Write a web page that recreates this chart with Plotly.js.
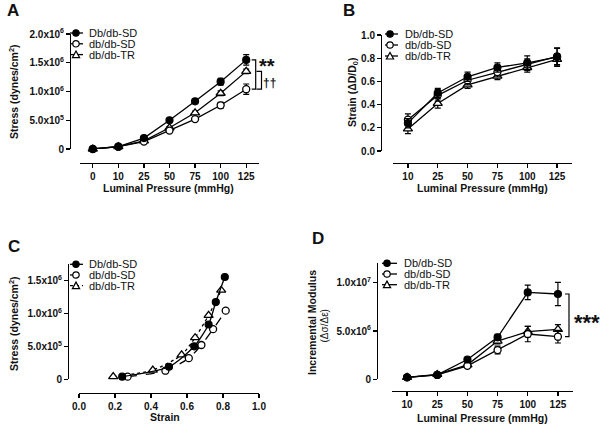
<!DOCTYPE html>
<html>
<head>
<meta charset="utf-8">
<script src="https://cdn.plot.ly/plotly-3.0.1.min.js"></script>
<style>html,body{margin:0;padding:0;background:#fff;}#chart{width:602px;height:432px;}</style>
</head>
<body>
<div id="chart"></div>
<script>
// ---------- data ----------
const pressureA = ['0','10','25','50','75','100','125'];
const pressureB = ['10','25','50','75','100','125'];
const seriesNames = ['Db/db-SD','db/db-SD','db/db-TR'];

// Panel A: stress (dynes/cm^2)
const stressDb = [0, 0.04e6, 0.19e6, 0.50e6, 0.83e6, 1.17e6, 1.55e6];
const stressDbErr = [0, 0.01e6, 0.02e6, 0.03e6, 0.03e6, 0.06e6, 0.09e6];
const stressSD = [0, 0.04e6, 0.13e6, 0.32e6, 0.52e6, 0.76e6, 1.04e6];
const stressSDErr = [0, 0.01e6, 0.02e6, 0.03e6, 0.04e6, 0.05e6, 0.09e6];
const stressTR = [0, 0.04e6, 0.14e6, 0.37e6, 0.63e6, 0.97e6, 1.35e6];
const stressTRErr = [0, 0.01e6, 0.01e6, 0.02e6, 0.03e6, 0.04e6, 0.04e6];

// Panel B: strain
const strainDb = [0.24, 0.50, 0.64, 0.72, 0.76, 0.81];
const strainDbErr = [0.04, 0.04, 0.04, 0.04, 0.06, 0.08];
const strainSD = [0.27, 0.48, 0.61, 0.68, 0.745, 0.815];
const strainSDErr = [0.05, 0.05, 0.04, 0.04, 0.05, 0.07];
const strainTR = [0.19, 0.41, 0.57, 0.645, 0.72, 0.79];
const strainTRErr = [0.04, 0.04, 0.03, 0.03, 0.04, 0.05];

// Panel D: incremental modulus
const modDb = [0.2e6, 0.45e6, 2.05e6, 4.35e6, 9.0e6, 8.83e6];
const modDbErr = [0.1e6, 0.1e6, 0.2e6, 0.3e6, 0.75e6, 1.2e6];
const modSD = [0.2e6, 0.45e6, 1.4e6, 3.03e6, 4.69e6, 4.41e6];
const modSDErr = [0.1e6, 0.1e6, 0.2e6, 0.4e6, 0.8e6, 0.65e6];
const modTR = [0.2e6, 0.5e6, 1.5e6, 3.96e6, 4.93e6, 5.17e6];
const modTRErr = [0.1e6, 0.1e6, 0.2e6, 0.3e6, 0.55e6, 0.5e6];

// ---------- helpers ----------
const W = 602, H = 432;
const FONT = 'Liberation Sans, Arial, sans-serif';
const px = v => v / W;
const py = v => 1 - v / H;

const symDb = {symbol:'circle', color:'#000', line:{color:'#000', width:1.2}, size:7};
const symSD = {symbol:'circle', color:'#fff', line:{color:'#000', width:1.3}, size:7};
const symTR = {symbol:'triangle-up', color:'#fff', line:{color:'#000', width:1.3}, size:8};

function tr(x, y, err, marker, xa, ya, name, dash, shape) {
  const t = {
    type:'scatter', mode:'lines+markers', x:x, y:y, name:name,
    xaxis:xa, yaxis:ya, marker:marker, cliponaxis:false, showlegend:false,
    line:{color:'#000', width:1.3, dash:dash || 'solid', shape:shape || 'linear', smoothing:0.7}
  };
  if (err) t.error_y = {type:'data', array:err, visible:true, color:'#000', thickness:1.2, width:3};
  return t;
}

const data = [
  // A
  tr(pressureA, stressTR, stressTRErr, symTR, 'x', 'y', seriesNames[2]),
  tr(pressureA, stressSD, stressSDErr, symSD, 'x', 'y', seriesNames[1]),
  tr(pressureA, stressDb, stressDbErr, symDb, 'x', 'y', seriesNames[0]),
  // B
  tr(pressureB, strainTR, strainTRErr, symTR, 'x2', 'y2', seriesNames[2]),
  tr(pressureB, strainSD, strainSDErr, symSD, 'x2', 'y2', seriesNames[1]),
  tr(pressureB, strainDb, strainDbErr, symDb, 'x2', 'y2', seriesNames[0]),
  // C (stress vs strain, smooth curves)
  tr(strainTR, stressTR.slice(1), null, symTR, 'x3', 'y3', seriesNames[2], 'dot', 'spline'),
  tr(strainSD, stressSD.slice(1), null, symSD, 'x3', 'y3', seriesNames[1], 'dash', 'spline'),
  tr(strainDb, stressDb.slice(1), null, symDb, 'x3', 'y3', seriesNames[0], 'solid', 'spline'),
  // D
  tr(pressureB, modTR, modTRErr, symTR, 'x4', 'y4', seriesNames[2]),
  tr(pressureB, modSD, modSDErr, symSD, 'x4', 'y4', seriesNames[1]),
  tr(pressureB, modDb, modDbErr, symDb, 'x4', 'y4', seriesNames[0])
];

const baseAx = {
  showline:true, linecolor:'#000', linewidth:1.3, ticks:'outside', ticklen:4,
  tickwidth:1.3, tickcolor:'#000', showgrid:false, zeroline:false, fixedrange:true,
  tickfont:{family:FONT, size:10, color:'#111', weight:'bold'}, anchor:'free'
};
function ax(extra) { return Object.assign({}, baseAx, extra); }

const layout = {
  width:W, height:H, margin:{l:0, r:0, t:0, b:0},
  paper_bgcolor:'#fff', plot_bgcolor:'rgba(0,0,0,0)', showlegend:false,
  font:{family:FONT, color:'#000'},
  // Panel A
  xaxis: ax({domain:[px(80), px(259)], type:'category', categoryarray:pressureA, range:[-0.5, 6.5], position:py(163)}),
  yaxis: ax({domain:[py(149), py(34)], range:[0, 2e6], position:px(70),
    tickvals:[0, 0.5e6, 1e6, 1.5e6, 2e6],
    ticktext:['0','5.0x10<sup>5</sup>','1.0x10<sup>6</sup>','1.5x10<sup>6</sup>','2.0x10<sup>6</sup>']}),
  // Panel B
  xaxis2: ax({domain:[px(393), px(572)], type:'category', categoryarray:pressureB, range:[-0.5, 5.5], position:py(163)}),
  yaxis2: ax({domain:[py(151), py(35)], range:[0, 1], position:px(381), tickvals:[0,0.2,0.4,0.6,0.8,1.0], tickformat:'.1f'}),
  // Panel C
  xaxis3: ax({domain:[px(79), px(259)], range:[0, 1], position:py(392.7), tickvals:[0,0.2,0.4,0.6,0.8,1.0], tickformat:'.1f'}),
  yaxis3: ax({domain:[py(379.3), py(263.8)], range:[0, 1.75e6], position:px(68),
    tickvals:[0, 0.5e6, 1e6, 1.5e6],
    ticktext:['0','5.0x10<sup>5</sup>','1.0x10<sup>6</sup>','1.5x10<sup>6</sup>']}),
  // Panel D
  xaxis4: ax({domain:[px(392), px(573)], type:'category', categoryarray:pressureB, range:[-0.5, 5.5], position:py(391)}),
  yaxis4: ax({domain:[py(379.3), py(263.4)], range:[0, 1.2e7], position:px(377),
    tickvals:[0, 5e6, 1e7],
    ticktext:['0','5.0x10<sup>6</sup>','1.0x10<sup>7</sup>']}),
  annotations:[],
  shapes:[]
};

function note(text, x, y, size, opts) {
  layout.annotations.push(Object.assign({
    text:text, x:px(x), y:py(y), xref:'paper', yref:'paper', showarrow:false,
    xanchor:'center', yanchor:'middle', borderpad:0,
    font:{family:FONT, size:size, color:'#111', weight:'bold'}
  }, opts || {}));
}

// panel letters
note('A', 12.5, 11, 17);
note('B', 349, 11, 17);
note('C', 14, 246, 17);
note('D', 318, 239, 17);

// axis titles
note('Luminal Pressure (mmHg)', 168.5, 188, 10.5);
note('Luminal Pressure (mmHg)', 482, 188, 10.5);
note('Strain', 165, 416.7, 10.5);
note('Luminal Pressure (mmHg)', 482, 417.7, 10.5);
note('Stress (dynes/cm<sup>2</sup>)', 13.5, 91.5, 10.5, {textangle:-90});
note('Strain (ΔD/D<sub>0</sub>)', 353, 93, 10.5, {textangle:-90});
note('Stress (dynes/cm<sup>2</sup>)', 13.5, 323.5, 10.5, {textangle:-90});
note('Incremental Modulus', 311.5, 322.5, 10.5, {textangle:-90});
note('(Δσ/Δε)', 323.5, 326, 10, {textangle:-90, font:{family:FONT, size:10, color:'#111'}});

// legends (drawn as layout decorations)
function legend(segX0, segX1, mx, rows, textX, dashes) {
  const marks = ['db','sd','tr'];
  rows.forEach((ry, i) => {
    layout.shapes.push({type:'line', xref:'paper', yref:'paper', x0:px(segX0), x1:px(segX1), y0:py(ry), y1:py(ry),
      line:{color:'#000', width:1.3, dash:dashes[i]}});
    if (marks[i] === 'tr') {
      const p = `M ${px(mx-3.6)} ${py(ry+3)} L ${px(mx+3.6)} ${py(ry+3)} L ${px(mx)} ${py(ry-3.6)} Z`;
      layout.shapes.push({type:'path', xref:'paper', yref:'paper', path:p, fillcolor:'#fff', line:{color:'#000', width:1.2}});
    } else {
      layout.shapes.push({type:'circle', xref:'paper', yref:'paper', x0:px(mx-3.2), x1:px(mx+3.2), y0:py(ry+3.2), y1:py(ry-3.2),
        fillcolor: marks[i] === 'db' ? '#000' : '#fff', line:{color:'#000', width:1.2}});
    }
    note(seriesNames[i], textX, ry, 11, {xanchor:'left', font:{family:FONT, size:11, color:'#111'}});
  });
}
legend(70, 83, 76, [33, 43.8, 54.6], 88, ['solid','solid','solid']);
legend(385, 398, 390, [34, 45, 56], 404, ['solid','solid','solid']);
legend(70, 83, 76, [264.3, 275, 285.7], 88, ['solid','dash','dot']);
legend(382, 397, 387, [263.3, 274, 284.7], 403, ['solid','solid','solid']);

// significance brackets
const last = a => a[a.length - 1];
function bracket(x0, x1, ya, yv0, yv1) {
  layout.shapes.push({type:'path', xref:'paper', yref:ya,
    path:`M ${px(x0)} ${yv0} L ${px(x1)} ${yv0} L ${px(x1)} ${yv1} L ${px(x0)} ${yv1}`,
    line:{color:'#000', width:1.2}});
}
bracket(251.7, 255.7, 'y', last(stressDb), last(stressSD));
bracket(256.5, 261.5, 'y', last(stressTR), last(stressSD));
note('**', 267, 66, 20);
note('††', 269, 83, 12);
bracket(565, 569, 'y4', last(modDb), last(modSD));
note('***', 587, 322, 22);

Plotly.newPlot('chart', data, layout, {displayModeBar:false, staticPlot:true});
</script>
</body>
</html>
